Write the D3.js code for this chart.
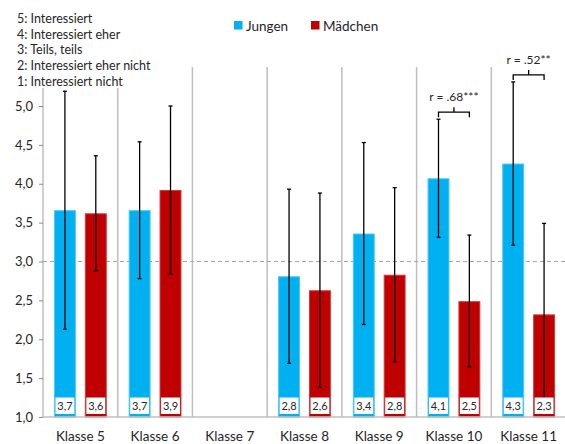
<!DOCTYPE html>
<html>
<head>
<meta charset="utf-8">
<script src="https://cdn.jsdelivr.net/npm/d3@7/dist/d3.min.js"></script>
<style>
  html, body { margin: 0; padding: 0; background: #fff; }
  svg { display: block; }
  text { font-family: Lato, "Open Sans", sans-serif; fill: #262626; }
</style>
</head>
<body>
<svg id="chart" width="565" height="444"></svg>
<script>
// Interest ratings by school year and gender (mean and SD)
const categories = ["Klasse 5", "Klasse 6", "Klasse 7", "Klasse 8", "Klasse 9", "Klasse 10", "Klasse 11"];
const series = ["Jungen", "Mädchen"];
const jungenMean = [3.66, 3.66, null, 2.81, 3.36, 4.07, 4.26];
const maedchenMean = [3.62, 3.92, null, 2.63, 2.83, 2.49, 2.32];
const jungenSD = [1.53, 0.88, null, 1.12, 1.17, 0.76, 1.05];
const maedchenSD = [0.74, 1.08, null, 1.25, 1.12, 0.85, 1.17];
const yTicks = [1.0, 1.5, 2.0, 2.5, 3.0, 3.5, 4.0, 4.5, 5.0];
const referenceLevel = 3.0;
const scaleLegend = [
  "5: Interessiert",
  "4: Interessiert eher",
  "3: Teils, teils",
  "2: Interessiert eher nicht",
  "1: Interessiert nicht"
];
const correlations = [
  { category: "Klasse 10", text: "r = .68***" },
  { category: "Klasse 11", text: "r = .52**" }
];
const colors = { "Jungen": "#00b0f0", "Mädchen": "#c00000" };
const edgeColors = { "Jungen": "#4cc8f4", "Mädchen": "#d23a3a" };

const svg = d3.select("#chart");
const plotLeft = 43, plotRight = 566, plotTop = 67, plotBottom = 417;

const x = d3.scaleBand().domain(categories).range([plotLeft, plotRight]).paddingInner(0).paddingOuter(0);
const xs = d3.scaleBand().domain(series).range([0, x.bandwidth()]).paddingInner(0.29).paddingOuter(0.355);
const y = d3.scaleLinear().domain([1, 5]).range([plotBottom, 106]);

const fmt = v => d3.format(".1f")(v).replace(".", ",");

// Group separators
svg.append("g").selectAll("line")
  .data(categories.slice(1))
  .join("line")
  .attr("x1", d => x(d)).attr("x2", d => x(d))
  .attr("y1", plotTop).attr("y2", plotBottom)
  .attr("stroke", "#bfbfbf").attr("stroke-width", 1.5);

// Y axis
const yAxis = d3.axisLeft(y).tickValues(yTicks).tickFormat(fmt).tickSize(4).tickPadding(6);
const gy = svg.append("g").attr("transform", `translate(${plotLeft},0)`).call(yAxis);
gy.select(".domain").attr("stroke", "#bfbfbf").attr("stroke-width", 1.5)
  .attr("d", `M0,${y(5.37)}V${plotBottom}`);
gy.selectAll(".tick line").attr("stroke", "#8c8c8c");
gy.selectAll(".tick text").style("font-family", "Lato, sans-serif").style("font-size", "13px").attr("fill", "#262626");

// Reference line at the scale midpoint
svg.append("line")
  .attr("x1", plotLeft).attr("x2", 565)
  .attr("y1", y(referenceLevel)).attr("y2", y(referenceLevel))
  .attr("stroke", "#a6a6a6").attr("stroke-width", 1).attr("stroke-dasharray", "4,3");

// Rows for bars
const rows = [];
categories.forEach((c, i) => {
  [[series[0], jungenMean[i], jungenSD[i]], [series[1], maedchenMean[i], maedchenSD[i]]].forEach(([s, m, sd]) => {
    if (m != null) rows.push({ category: c, series: s, mean: m, sd: sd });
  });
});
const bx = d => x(d.category) + xs(d.series);
const cx = d => bx(d) + xs.bandwidth() / 2;

// Bars
svg.append("g").selectAll("rect")
  .data(rows)
  .join("rect")
  .attr("x", d => bx(d) + 0.5)
  .attr("width", xs.bandwidth() - 1)
  .attr("y", d => y(d.mean) + 0.5)
  .attr("height", d => y(1) - y(d.mean) - 0.5)
  .attr("fill", d => colors[d.series])
  .attr("stroke", d => edgeColors[d.series])
  .attr("stroke-width", 1);

// Error bars
const eg = svg.append("g").attr("stroke", "#000").attr("stroke-width", 1.3);
eg.selectAll("line.stem").data(rows).join("line").attr("class", "stem")
  .attr("x1", cx).attr("x2", cx)
  .attr("y1", d => y(d.mean + d.sd)).attr("y2", d => y(d.mean - d.sd));
eg.selectAll("line.capT").data(rows).join("line").attr("class", "capT")
  .attr("x1", d => cx(d) - 2).attr("x2", d => cx(d) + 2)
  .attr("y1", d => y(d.mean + d.sd)).attr("y2", d => y(d.mean + d.sd));
eg.selectAll("line.capB").data(rows).join("line").attr("class", "capB")
  .attr("x1", d => cx(d) - 2).attr("x2", d => cx(d) + 2)
  .attr("y1", d => y(d.mean - d.sd)).attr("y2", d => y(d.mean - d.sd));

// Value boxes
const vb = svg.append("g").selectAll("g").data(rows).join("g");
vb.append("rect")
  .attr("x", d => bx(d) + 1.5).attr("width", xs.bandwidth() - 3)
  .attr("y", plotBottom - 19.5).attr("height", 16.5)
  .attr("fill", "#fff");
vb.append("text")
  .attr("x", cx).attr("y", plotBottom - 7)
  .attr("text-anchor", "middle")
  .style("font-size", "11px")
  .text(d => fmt(d.mean));

// X axis line and labels
svg.append("line")
  .attr("x1", plotLeft).attr("x2", 565).attr("y1", plotBottom).attr("y2", plotBottom)
  .attr("stroke", "#bfbfbf").attr("stroke-width", 1.5);
svg.append("g").selectAll("text")
  .data(categories).join("text")
  .attr("x", d => x(d) + x.bandwidth() / 2)
  .attr("y", 441)
  .attr("text-anchor", "middle")
  .style("font-size", "13.5px")
  .text(d => d);

// Correlation brackets
const cg = svg.append("g");
correlations.forEach(c => {
  const i = categories.indexOf(c.category);
  const top1 = jungenMean[i] + jungenSD[i];
  const x1 = x(c.category) + xs("Jungen") + xs.bandwidth() / 2;
  const x2 = x(c.category) + xs("Mädchen") + xs.bandwidth() / 2;
  const yb = y(top1) - 7;
  const xm = (x1 + x2) / 2;
  cg.append("path")
    .attr("d", `M${x1},${yb + 5}V${yb}H${x2}V${yb + 5}M${xm},${yb}V${yb - 5}`)
    .attr("fill", "none").attr("stroke", "#000").attr("stroke-width", 1.3);
  cg.append("text")
    .attr("x", xm).attr("y", yb - 11)
    .attr("text-anchor", "middle")
    .style("font-size", "12px")
    .text(c.text);
});

// Scale description
const sl = svg.append("g");
sl.append("rect").attr("x", 15).attr("y", 8).attr("width", 108).attr("height", 80).attr("fill", "#fff");
sl.selectAll("text").data(scaleLegend).join("text")
  .attr("x", 17).attr("y", (d, i) => 23 + i * 15.7)
  .style("font-size", "12.5px")
  .text(d => d);

// Series legend
const lg = svg.append("g");
const legendX = { "Jungen": 234, "Mädchen": 311 };
series.forEach(s => {
  lg.append("rect").attr("x", legendX[s]).attr("y", 21).attr("width", 8.5).attr("height", 8.5).attr("fill", colors[s]);
  lg.append("text").attr("x", legendX[s] + 12).attr("y", 30.5).style("font-size", "13.5px").text(s);
});
</script>
</body>
</html>
